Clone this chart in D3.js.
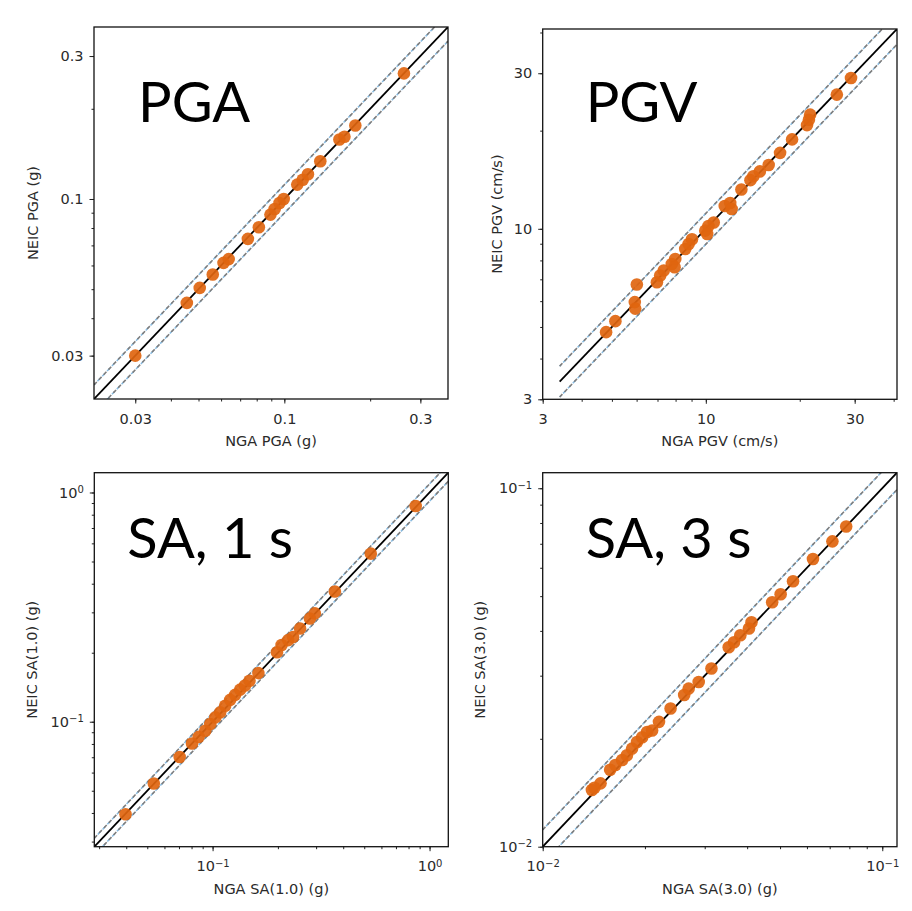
<!DOCTYPE html>
<meta charset="utf-8">
<style>
body { margin: 0; background: #fff; }
svg { background: #fff; }
.tick text { font: 14.5px "DejaVu Sans", sans-serif; fill: #2a2a2a; }
.axlabel { font: 14.5px "DejaVu Sans", sans-serif; fill: #2a2a2a; }
.big { font: 56px Lato, "Open Sans", sans-serif; fill: #000; }
.frame { fill: none; stroke: #111; stroke-width: 1.3; }
</style>
<body>
<svg width="912" height="911"></svg>
</body>
<script src="https://cdnjs.cloudflare.com/ajax/libs/d3/7.8.5/d3.min.js"></script>
<script>

// values: NGA (x) vs NEIC (y)
var pgaNga  = [0.030, 0.0455, 0.0505, 0.0561, 0.0612, 0.0638, 0.0745, 0.0814, 0.0894, 0.0925, 0.0962, 0.0995, 0.111, 0.116, 0.121, 0.1337, 0.156, 0.1625, 0.1774, 0.2627];
var pgaNeic = [0.030, 0.0450, 0.0505, 0.0560, 0.0612, 0.0630, 0.0736, 0.0805, 0.0887, 0.0926, 0.0970, 0.1000, 0.1117, 0.116, 0.121, 0.1337, 0.158, 0.1614, 0.1760, 0.2625];

var pgvNga  = [4.79, 5.13, 6.01, 5.92, 5.94, 6.97, 7.14, 7.33, 7.78, 7.98, 7.94, 8.59, 8.81, 9.03, 9.96, 10.2, 10.6, 10.1, 11.5, 11.97, 12.1, 13.0, 13.9, 14.2, 14.9, 15.9, 17.3, 18.9, 21.1, 21.4, 21.6, 26.3, 29.2];
var pgvNeic = [4.82, 5.21, 6.75, 5.96, 5.69, 6.86, 7.19, 7.45, 7.80, 8.08, 7.62, 8.67, 8.98, 9.29, 9.87, 10.2, 10.45, 9.64, 11.75, 12.0, 11.5, 13.2, 14.1, 14.5, 15.0, 15.7, 17.1, 18.8, 20.8, 21.6, 22.4, 25.8, 29.0];

var sa10Nga  = [0.0397, 0.0536, 0.0705, 0.0804, 0.0863, 0.0925, 0.0976, 0.1029, 0.1084, 0.1143, 0.1205, 0.127, 0.134, 0.141, 0.148, 0.1626, 0.198, 0.208, 0.223, 0.235, 0.253, 0.281, 0.296, 0.366, 0.536, 0.863];
var sa10Neic = [0.0395, 0.0538, 0.0702, 0.0803, 0.0859, 0.0913, 0.0977, 0.1045, 0.1099, 0.1175, 0.1245, 0.131, 0.138, 0.144, 0.151, 0.163, 0.201, 0.216, 0.227, 0.234, 0.255, 0.282, 0.297, 0.370, 0.541, 0.873];

var sa30Nga  = [0.01396, 0.0148, 0.0142, 0.0158, 0.01637, 0.01714, 0.0177, 0.01833, 0.01896, 0.01963, 0.0203, 0.0210, 0.0220, 0.0238, 0.0261, 0.0269, 0.0288, 0.0314, 0.0353, 0.0366, 0.0382, 0.0405, 0.0412, 0.0474, 0.0502, 0.0546, 0.0625, 0.0713, 0.0783];
var sa30Neic = [0.01439, 0.01502, 0.0146, 0.0164, 0.0169, 0.01745, 0.01799, 0.01878, 0.0196, 0.0202, 0.0209, 0.0211, 0.0223, 0.0243, 0.0265, 0.0276, 0.0288, 0.0314, 0.0360, 0.0372, 0.0389, 0.0406, 0.0423, 0.0481, 0.0506, 0.0550, 0.0635, 0.0711, 0.0782];

// axis ranges and labelled ticks
var pgaDomain = [0.0215, 0.375], pgaTicks = [0.03, 0.1, 0.3];
var pgvDomain = [3, 41],         pgvTicks = [3, 10, 30];
var sa10Domain = [0.0285, 1.22], sa10Ticks = [0.1, 1];
var sa30Domain = [0.01, 0.1105], sa30Ticks = [0.01, 0.1];

// 1:1 line extent and the factor of the dashed bounds
var pgaLine = [0.0215, 0.375], pgaBand = 1.115;
var pgvLine = [3.4, 41],       pgvBand = 1.115;
var sa10Line = [0.0285, 1.22], sa10Band = 1.09;
var sa30Line = [0.01, 0.1105], sa30Band = 1.115;

var panels = [
  { name: "PGA", left: 94, top: 27, w: 354, h: 372, dom: pgaDomain, ticks: pgaTicks, sci: false,
    xs: pgaNga, ys: pgaNeic, line: pgaLine, band: pgaBand,
    xlab: "NGA PGA (g)", ylab: "NEIC PGA (g)", ylabDx: -61, tx: 44, ty: 95 },
  { name: "PGV", left: 542.7, top: 29, w: 354.3, h: 370.3, dom: pgvDomain, ticks: pgvTicks, sci: false,
    xs: pgvNga, ys: pgvNeic, line: pgvLine, band: pgvBand,
    xlab: "NGA PGV (cm/s)", ylab: "NEIC PGV (cm/s)", ylabDx: -46, tx: 43, ty: 93 },
  { name: "SA, 1 s", left: 94.3, top: 472.7, w: 354, h: 374, dom: sa10Domain, ticks: sa10Ticks, sci: true,
    xs: sa10Nga, ys: sa10Neic, line: sa10Line, band: sa10Band,
    xlab: "NGA SA(1.0) (g)", ylab: "NEIC SA(1.0) (g)", ylabDx: -62, tx: 33, ty: 85 },
  { name: "SA, 3 s", left: 542.7, top: 472.7, w: 354.3, h: 374, dom: sa30Domain, ticks: sa30Ticks, sci: true,
    xs: sa30Nga, ys: sa30Neic, line: sa30Line, band: sa30Band,
    xlab: "NGA SA(3.0) (g)", ylab: "NEIC SA(3.0) (g)", ylabDx: -63, tx: 43, ty: 85 }
];

var svg = d3.select("svg");

function sciLabels(sel) {
  sel.selectAll(".tick text").each(function(d) {
    var t = d3.select(this), e = Math.round(Math.log10(d));
    t.text("10");
    t.append("tspan").attr("dy", "-0.45em").style("font-size", "10px")
      .text(e < 0 ? "\u2212" + (-e) : e);
  });
}

panels.forEach(function(p, i) {
  var g = svg.append("g").attr("transform", "translate(" + p.left + "," + p.top + ")");
  var x = d3.scaleLog().domain(p.dom).range([0, p.w]);
  var y = d3.scaleLog().domain(p.dom).range([p.h, 0]);

  g.append("clipPath").attr("id", "clip" + i)
    .append("rect").attr("width", p.w).attr("height", p.h);

  // minor ticks
  g.append("g").attr("transform", "translate(0," + p.h + ")")
    .call(d3.axisBottom(x).tickValues(x.ticks()).tickSize(2.5).tickFormat(""))
    .call(a => a.select(".domain").remove());
  g.append("g")
    .call(d3.axisLeft(y).tickValues(y.ticks()).tickSize(2.5).tickFormat(""))
    .call(a => a.select(".domain").remove());

  // labelled ticks
  var fmt = d => d3.format("~g")(d);
  var xa = g.append("g").attr("transform", "translate(0," + p.h + ")")
    .call(d3.axisBottom(x).tickValues(p.ticks).tickSize(4.5).tickPadding(10).tickFormat(fmt))
    .call(a => a.select(".domain").remove());
  var ya = g.append("g")
    .call(d3.axisLeft(y).tickValues(p.ticks).tickSize(4.5).tickPadding(6).tickFormat(fmt))
    .call(a => a.select(".domain").remove());
  if (p.sci) { xa.call(sciLabels); ya.call(sciLabels); }
  xa.selectAll(".tick text").attr("dy", "0.71em");
  g.selectAll(".tick line").attr("stroke", "#222");

  var plot = g.append("g").attr("clip-path", "url(#clip" + i + ")");
  var lineGen = f => d3.line().x(d => x(d)).y(d => y(d * f));

  // dashed bounds: blue and grey dashes laid over each other
  [p.band, 1 / p.band].forEach(function(f) {
    plot.append("path").datum(p.line).attr("d", lineGen(f))
      .attr("fill", "none").attr("stroke", "#5fa3d6").attr("stroke-width", 1.5)
      .attr("stroke-dasharray", "4,3").attr("stroke-dashoffset", 2).attr("opacity", 0.75);
    plot.append("path").datum(p.line).attr("d", lineGen(f))
      .attr("fill", "none").attr("stroke", "#7d7d7d").attr("stroke-width", 1.6)
      .attr("stroke-dasharray", "4,3");
  });
  plot.append("path").datum(p.line).attr("d", lineGen(1))
    .attr("fill", "none").attr("stroke", "#000").attr("stroke-width", 1.8);

  plot.append("g").selectAll("circle")
    .data(p.xs.map((v, k) => [v, p.ys[k]]))
    .enter().append("circle")
      .attr("cx", d => x(d[0]))
      .attr("cy", d => y(d[1]))
      .attr("r", 6.3)
      .attr("fill", "#e0650f")
      .attr("fill-opacity", 0.92);

  g.append("rect").attr("class", "frame").attr("width", p.w).attr("height", p.h);

  g.append("text").attr("class", "axlabel").attr("text-anchor", "middle")
    .attr("x", p.w / 2).attr("y", p.h + 47).text(p.xlab);
  g.append("text").attr("class", "axlabel").attr("text-anchor", "middle")
    .attr("transform", "translate(" + (p.ylabDx + 5) + "," + (p.h / 2) + ") rotate(-90)")
    .text(p.ylab);

  g.append("text").attr("class", "big").attr("x", p.tx).attr("y", p.ty).text(p.name);
});

</script>
